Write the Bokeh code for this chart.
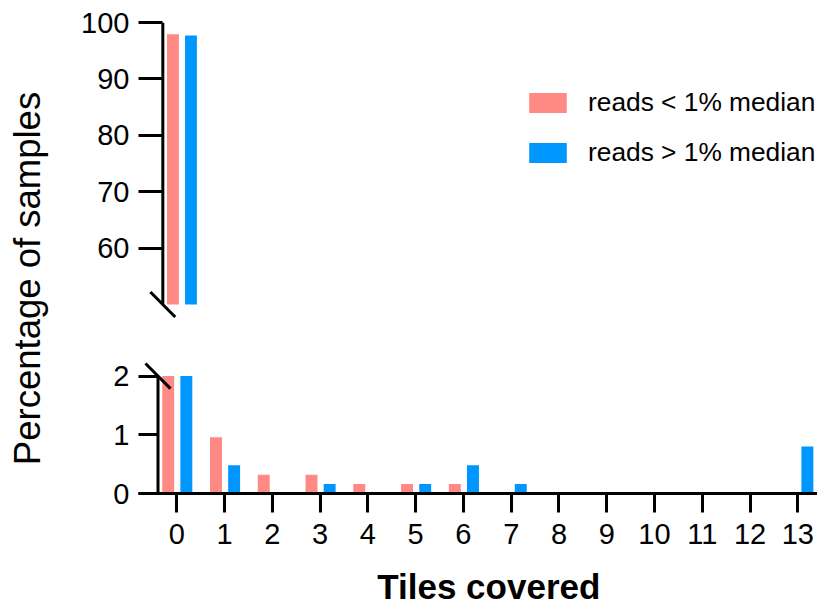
import numpy as np
from bokeh.plotting import figure
from bokeh.layouts import row, column
from bokeh.models import (Range1d, Legend, LegendItem, FixedTicker, ColumnDataSource,
                          Label)
from bokeh.transform import dodge
from bokeh.embed import file_html
from bokeh.resources import INLINE

# ---------------- data ----------------
tiles = list(range(14))
low_reads = [97.9, 0.96, 0.32, 0.32, 0.16, 0.16, 0.16, 0, 0, 0, 0, 0, 0, 0]
high_reads = [97.7, 0.48, 0, 0.16, 0, 0.16, 0.48, 0.16, 0, 0, 0, 0, 0, 0.8]
series_labels = ["reads < 1% median", "reads > 1% median"]
top_ticks = [60, 70, 80, 90, 100]
bottom_ticks = [0, 1, 2]
x_tick_labels = [str(t) for t in tiles]
top_limits = (50, 100)
bottom_limits = (0, 2)
x_title = "Tiles covered"
y_title = "Percentage of samples"

# ---------------- style / geometry (page pixels) ----------------
PINK = "#FF8985"
BLUE = "#0096FF"
FONT = "Liberation Sans"
TICK_FONT = "29px"
ORIGIN = 1               # page position of the layout's top-left corner
PX_X = 47.77             # pixels per x unit
X0_PX = 177.3            # page x of tile 0
AXIS_PX = 158.5          # page x of the y axis line
AXIS_X = (AXIS_PX - X0_PX) / PX_X
PX_TOP = 5.635           # pixels per y unit (top panel)
PX_BOT = 58.5            # pixels per y unit (bottom panel)
LEFT_W = 63
MAIN_W = 818 - ORIGIN - LEFT_W
TOP_FRAME_L, BOT_FRAME_L, FRAME_R = 134, 139, 818
TOP_CANVAS = (ORIGIN, 330)
BOT_CANVAS = (330, 560)
TITLE_CANVAS = (560, 607)
TOTAL_H = TITLE_CANVAS[1] - ORIGIN
X_TITLE_CENTER = 485 - 32

src = ColumnDataSource(dict(
    tiles=tiles,
    low_top=np.maximum(low_reads, top_limits[0]),
    high_top=np.maximum(high_reads, top_limits[0]),
    low_bot=np.minimum(low_reads, bottom_limits[1]),
    high_bot=np.minimum(high_reads, bottom_limits[1]),
))


def xrange_for(frame_left):
    start = (frame_left - X0_PX) / PX_X
    return Range1d(start, start + (FRAME_R - frame_left) / PX_X)


def style_yaxis(p, ticks, tick_len):
    ax = p.yaxis[0]
    ax.ticker = FixedTicker(ticks=ticks)
    ax.axis_line_color = None
    ax.major_tick_line_width = 3
    ax.major_tick_line_color = "black"
    ax.major_tick_out = 0
    ax.major_tick_in = tick_len
    ax.minor_tick_out = 0
    ax.minor_tick_in = 0
    ax.major_label_text_font = FONT
    ax.major_label_text_font_size = TICK_FONT
    ax.major_label_text_color = "black"
    ax.major_label_standoff = 9


def clean(p):
    p.xgrid.visible = False
    p.ygrid.visible = False
    p.outline_line_color = None
    p.background_fill_color = "white"
    p.border_fill_color = "white"
    return p


def base_fig(canvas, xr, yr, frame_left, **kw):
    p = figure(width=MAIN_W, height=canvas[1] - canvas[0], x_range=xr, y_range=yr,
               output_backend="svg", toolbar_location=None,
               min_border_left=frame_left - ORIGIN - LEFT_W, min_border_right=0, **kw)
    return clean(p)


h = 12.5  # half size of the break marks, px

# ---------------- top panel ----------------
xr_top = xrange_for(TOP_FRAME_L)
top = base_fig(TOP_CANVAS, xr_top, Range1d(100 - (330 - 23.3) / PX_TOP, 100), TOP_FRAME_L,
               x_axis_location=None, min_border_top=int(round(23.3 - TOP_CANVAS[0])),
               min_border_bottom=0)
r_low = top.vbar(x=dodge("tiles", -0.18, range=xr_top), top="low_top", bottom=top_limits[0],
                 width=0.25, source=src, fill_color=PINK, line_color=None)
r_high = top.vbar(x=dodge("tiles", 0.2, range=xr_top), top="high_top", bottom=top_limits[0],
                  width=0.25, source=src, fill_color=BLUE, line_color=None)
style_yaxis(top, top_ticks, 24)
top.segment(x0=[AXIS_X], y0=[top_limits[0]], x1=[AXIS_X], y1=[top_limits[1]],
            line_color="black", line_width=3)
top.segment(x0=[AXIS_X - h / PX_X], y0=[top_limits[0] + h / PX_TOP],
            x1=[AXIS_X + h / PX_X], y1=[top_limits[0] - h / PX_TOP],
            line_color="black", line_width=3)

legend = Legend(items=[LegendItem(label=series_labels[0], renderers=[r_low]),
                       LegendItem(label=series_labels[1], renderers=[r_high])],
                location=(386, 161), orientation="vertical",
                border_line_color=None, background_fill_alpha=0,
                padding=0, margin=0, spacing=19,
                glyph_width=47, glyph_height=25, label_height=25, label_standoff=17,
                label_text_font=FONT, label_text_font_size="26.3px",
                label_text_color="black")
top.add_layout(legend)

# ---------------- bottom panel ----------------
xr_bot = xrange_for(BOT_FRAME_L)
bot = base_fig(BOT_CANVAS, xr_bot, Range1d(0, (493.5 - 357) / PX_BOT), BOT_FRAME_L,
               min_border_top=357 - BOT_CANVAS[0], min_border_bottom=BOT_CANVAS[1] - 494)
bot.vbar(x=dodge("tiles", -0.18, range=xr_bot), top="low_bot", bottom=0,
         width=0.25, source=src, fill_color=PINK, line_color=None)
bot.vbar(x=dodge("tiles", 0.2, range=xr_bot), top="high_bot", bottom=0,
         width=0.25, source=src, fill_color=BLUE, line_color=None)
style_yaxis(bot, bottom_ticks, 19)
bot.segment(x0=[AXIS_X], y0=[bottom_limits[0]], x1=[AXIS_X], y1=[bottom_limits[1]],
            line_color="black", line_width=3)
bot.segment(x0=[AXIS_X - h / PX_X], y0=[bottom_limits[1] + h / PX_BOT],
            x1=[AXIS_X + h / PX_X], y1=[bottom_limits[1] - h / PX_BOT],
            line_color="black", line_width=3)

xa = bot.xaxis[0]
xa.ticker = FixedTicker(ticks=tiles)
xa.major_label_overrides = {t: lab for t, lab in zip(tiles, x_tick_labels)}
xa.axis_line_width = 3
xa.axis_line_color = "black"
xa.major_tick_line_width = 3
xa.major_tick_line_color = "black"
xa.major_tick_out = 19
xa.major_tick_in = 0
xa.minor_tick_out = 0
xa.minor_tick_in = 0
xa.major_label_text_font = FONT
xa.major_label_text_font_size = TICK_FONT
xa.major_label_text_color = "black"
xa.major_label_standoff = 11

# ---------------- x axis title ----------------
tw = MAIN_W
th = TITLE_CANVAS[1] - TITLE_CANVAS[0]
xt = clean(figure(width=tw, height=th, x_range=Range1d(0, tw), y_range=Range1d(0, th),
                  output_backend="svg", toolbar_location=None,
                  x_axis_location=None, y_axis_location=None, min_border=0))
xt.add_layout(Label(x=X_TITLE_CENTER - ORIGIN - LEFT_W, y=TITLE_CANVAS[1] - 587, text=x_title,
                    text_align="center", text_baseline="middle",
                    text_font=FONT, text_font_size="35px", text_font_style="bold",
                    text_color="black"))

# ---------------- y axis title ----------------
lab = clean(figure(width=LEFT_W, height=TOTAL_H, x_range=Range1d(0, LEFT_W),
                   y_range=Range1d(0, TOTAL_H), output_backend="svg", toolbar_location=None,
                   x_axis_location=None, y_axis_location=None, min_border=0))
lab.add_layout(Label(x=27, y=TOTAL_H - (279 - ORIGIN), text=y_title, angle=np.pi / 2,
                     text_align="center", text_baseline="middle",
                     text_font=FONT, text_font_size="36.5px", text_color="black"))

layout = row(lab, column(top, bot, xt))
open("out.html", "w").write(file_html(layout, INLINE))
